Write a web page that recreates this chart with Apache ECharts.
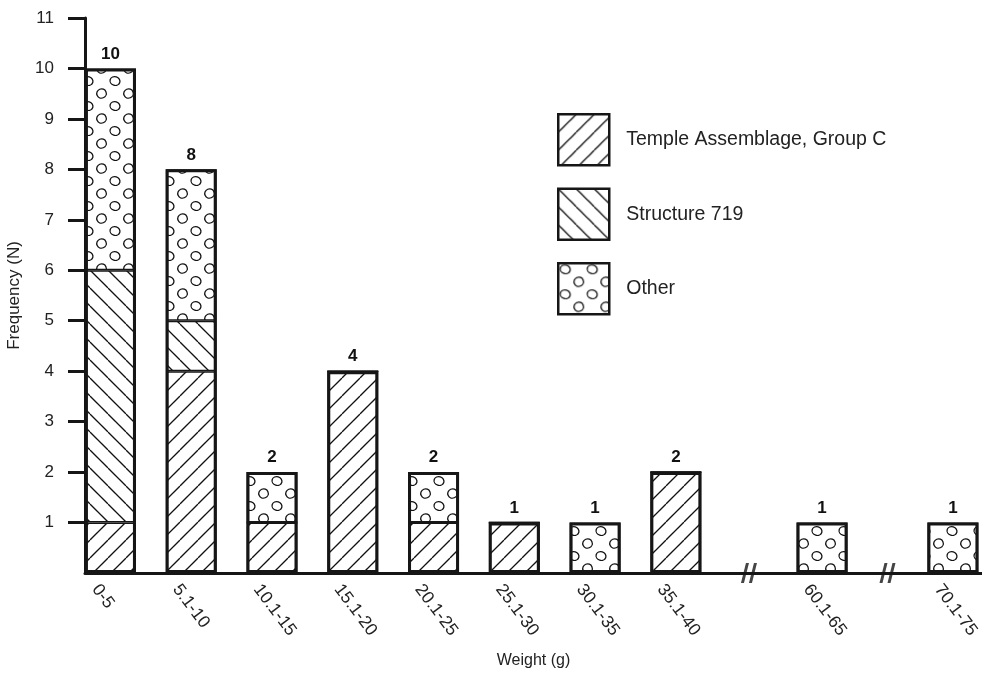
<!DOCTYPE html>
<html><head><meta charset="utf-8">
<script src="https://cdn.jsdelivr.net/npm/echarts@6/dist/echarts.min.js"></script>
<style>html,body{margin:0;padding:0;background:#fff}#c{width:982px;height:685px}</style>
</head><body><div id="c"></div><script>
// ---- data ----
const categories = ['0-5','5.1-10','10.1-15','15.1-20','20.1-25','25.1-30','30.1-35','35.1-40','60.1-65','70.1-75'];
const temple    = [1,4,1,4,1,1,0,2,0,0];
const structure = [5,1,0,0,0,0,0,0,0,0];
const other     = [4,3,1,0,1,0,1,0,1,1];
const totals    = [10,8,2,4,2,1,1,2,1,1];
const yTickLabels = [1,2,3,4,5,6,7,8,9,10,11];
// slot of each category on the broken weight axis (gaps after 35.1-40 and 60.1-65)
const axisSlots = [0,1,2,3,4,5,6,7,8.81,10.43];
const breakSlots = [(axisSlots[7]+axisSlots[8])/2, (axisSlots[8]+axisSlots[9])/2];

const INK = '#161616';
const FONT = 'Liberation Sans';

function hatch(dir){
  const s = 18, c = document.createElement('canvas');
  c.width = s; c.height = s;
  const g = c.getContext('2d');
  g.fillStyle = '#fff'; g.fillRect(0,0,s,s);
  g.strokeStyle = '#111'; g.lineWidth = 1.3;
  for (const x0 of [-s, 0, s]) {
    g.beginPath();
    if (dir === '/') { g.moveTo(x0, s); g.lineTo(x0 + s, 0); }
    else { g.moveTo(x0, 0); g.lineTo(x0 + s, s); }
    g.stroke();
  }
  return {image: c, repeat: 'repeat'};
}
function dots(){
  const w = 27, h = 25, c = document.createElement('canvas');
  c.width = w; c.height = h;
  const g = c.getContext('2d');
  g.fillStyle = '#fff'; g.fillRect(0,0,w,h);
  g.strokeStyle = '#111'; g.lineWidth = 1.3;
  const circ = [[7,6,5.0,4.4,0.3],[20.5,18.5,4.8,4.6,-0.4]];
  for (const [cx,cy,rx,ry,rot] of circ) {
    for (const dx of [-w,0,w]) for (const dy of [-h,0,h]) {
      g.beginPath(); g.ellipse(cx+dx, cy+dy, rx, ry, rot, 0, Math.PI*2); g.stroke();
    }
  }
  return {image: c, repeat: 'repeat'};
}

// value first, slot second (encode maps them), so that the value dimension is the stacked one
const pairs = arr => arr.map((v,i) => [v, axisSlots[i]]);
const enc = {x: 1, y: 0};
const segStyle = fill => ({color: fill, borderColor: INK, borderWidth: 1.5});

const chart = echarts.init(document.getElementById('c'), null, {renderer: 'canvas'});
chart.setOption({
  animation: false,
  backgroundColor: '#fff',
  grid: {left: 85, right: 0, top: 18, bottom: 112, containLabel: false, outerBoundsMode: 'none'},
  legend: {
    data: ['Temple Assemblage, Group C','Structure 719','Other'],
    orient: 'vertical', left: 557, top: 113, padding: 0,
    itemWidth: 51, itemHeight: 51, itemGap: 21, icon: 'rect',
    itemStyle: {borderColor: INK, borderWidth: 2.5},
    textStyle: {fontFamily: FONT, fontSize: 19.5, color: '#222', padding: [0,0,0,12]}
  },
  xAxis: {
    type: 'value', min: -0.315, max: 10.79,
    name: 'Weight (g)', nameLocation: 'middle', nameGap: 66,
    nameTextStyle: {fontFamily: FONT, fontSize: 16, color: '#222'},
    axisLine: {show: true, onZero: false, lineStyle: {color: INK, width: 3}},
    axisTick: {show: false},
    splitLine: {show: false},
    axisLabel: {
      customValues: axisSlots, rotate: -53, margin: 2, lineHeight: 38,
      fontFamily: FONT, fontSize: 17.5, color: '#222',
      formatter: v => { const i = axisSlots.indexOf(v); return i >= 0 ? '\n' + categories[i] : ''; }
    }
  },
  yAxis: {
    type: 'value', min: 0, max: 11, interval: 1,
    name: 'Frequency (N)', nameLocation: 'middle', nameGap: 62, nameRotate: 90,
    nameTextStyle: {fontFamily: FONT, fontSize: 17, color: '#222'},
    axisLine: {show: true, onZero: false, lineStyle: {color: INK, width: 3}},
    axisTick: {show: true, length: 17, lineStyle: {color: INK, width: 3}, customValues: yTickLabels},
    splitLine: {show: false},
    axisLabel: {customValues: yTickLabels, margin: 31, fontFamily: FONT, fontSize: 17, color: '#222'}
  },
  series: [
    {name: 'Temple Assemblage, Group C', type: 'bar', stack: 'w', barWidth: 51, barGap: '-100%', encode: enc,
     data: pairs(temple), itemStyle: segStyle(hatch('/'))},
    {name: 'Structure 719', type: 'bar', stack: 'w', barWidth: 51, barGap: '-100%', encode: enc,
     data: pairs(structure), itemStyle: segStyle(hatch('\\'))},
    {name: 'Other', type: 'bar', stack: 'w', barWidth: 51, barGap: '-100%', encode: enc,
     data: pairs(other), itemStyle: segStyle(dots())},
    {name: 'outline', type: 'bar', barWidth: 51, barGap: '-100%', z: 5, encode: enc,
     data: pairs(totals),
     itemStyle: {color: 'rgba(0,0,0,0)', borderColor: INK, borderWidth: 3},
     label: {show: true, position: 'top', distance: 6, fontFamily: FONT, fontSize: 17, fontWeight: 'bold', color: '#111',
             formatter: p => String(totals[p.dataIndex])}},
    {name: 'breaks', type: 'scatter', clip: false, z: 6,
     symbol: 'path://M5,0 L8,0 L3,20 L0,20 Z M13,0 L16,0 L11,20 L8,20 Z', symbolSize: [16, 20],
     itemStyle: {color: INK},
     data: breakSlots.map(s => [s, 0])}
  ]
});
</script></body></html>
